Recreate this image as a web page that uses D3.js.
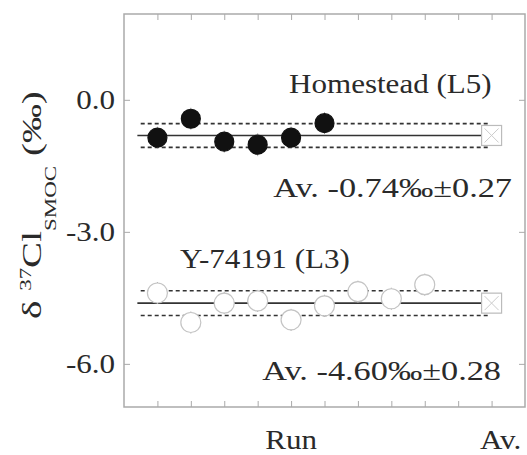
<!DOCTYPE html>
<html>
<head>
<meta charset="utf-8">
<script src="https://cdn.jsdelivr.net/npm/d3@7"></script>
<style>
  body { margin: 0; background: #fff; }
  svg { display: block; }
  text { font-family: "Liberation Serif", "Times New Roman", serif; fill: #2a2a2a; }
</style>
</head>
<body>
<div id="chart"></div>
<script>
// run numbers are positions 1..n on the x axis, the average sits at position 11
const avgPos = 11;
const xTickPos = [1, 2, 3, 4, 5, 6, 7, 8, 9, 10, 11];
const xLabels = ["Run", "Av."];
const xLabelPos = [5, 11];
const yTicks = [0, -3, -6];

// Homestead (L5), filled symbols
const homesteadVals = [-0.86, -0.43, -0.95, -1.02, -0.86, -0.53];
const homesteadErr = [0.25, 0.25, 0.25, 0.26, 0.25, 0.25];
const homesteadMean = -0.81;
const homesteadSd = 0.27;

// Y-74191 (L3), open symbols
const yamatoVals = [-4.39, -5.06, -4.62, -4.57, -5.00, -4.68, -4.36, -4.52, -4.20];
const yamatoErr = [0.25, 0.25, 0.25, 0.25, 0.25, 0.25, 0.25, 0.25, 0.25];
const yamatoMean = -4.62;
const yamatoSd = 0.28;

const seriesNames = ["Homestead (L5)", "Y-74191 (L3)"];
const avgTexts = ["Av. -0.74‰±0.27", "Av. -4.60‰±0.28"];

const width = 527, height = 455;
const fs = 27, stretch = 1.15;

const svg = d3.select('#chart').append('svg')
  .attr('width', width)
  .attr('height', height);

const x = d3.scaleLinear().domain([0, 12]).range([124, 525]);
const y = d3.scaleLinear().domain([-6.98, 1.95]).range([407, 14]);

// frame
svg.append('rect')
  .attr('x', x(0)).attr('y', y(1.95))
  .attr('width', x(12) - x(0)).attr('height', y(-6.98) - y(1.95))
  .attr('fill', 'none').attr('stroke', '#aaa').attr('stroke-width', 1.5);

// inward ticks on all four sides
svg.append('g').attr('transform', `translate(0,${y(-6.98)})`)
  .call(d3.axisTop(x).tickValues(xTickPos).tickSize(6).tickFormat(''))
  .call(g => g.select('.domain').remove())
  .selectAll('line').attr('stroke', '#aaa');
svg.append('g').attr('transform', `translate(0,${y(1.95)})`)
  .call(d3.axisBottom(x).tickValues(xTickPos).tickSize(6).tickFormat(''))
  .call(g => g.select('.domain').remove())
  .selectAll('line').attr('stroke', '#aaa');
svg.append('g').attr('transform', `translate(${x(0)},0)`)
  .call(d3.axisRight(y).tickValues(yTicks).tickSize(6).tickFormat(''))
  .call(g => g.select('.domain').remove())
  .selectAll('line').attr('stroke', '#aaa');
svg.append('g').attr('transform', `translate(${x(12)},0)`)
  .call(d3.axisLeft(y).tickValues(yTicks).tickSize(6).tickFormat(''))
  .call(g => g.select('.domain').remove())
  .selectAll('line').attr('stroke', '#aaa');

// stretched text helper (the figure is wider than it is tall)
function label(txt, px, py, anchor, sx) {
  return svg.append('text')
    .attr('transform', `translate(${px},${py}) scale(${sx || stretch},1)`)
    .attr('text-anchor', anchor)
    .style('font-size', fs + 'px')
    .text(txt);
}

// y tick labels (plain hyphen like the original)
yTicks.forEach(v => label(v.toFixed(1), x(0) - 9, y(v) + 9, 'end'));

// x labels
xLabels.forEach((t, i) => label(t, x(xLabelPos[i]) + (i === 1 ? 9 : 0), 449, 'middle'));

// y axis title, squashed across the glyphs
const title = svg.append('text')
  .attr('transform', 'translate(41,319) rotate(-90) scale(1,0.7)')
  .attr('text-anchor', 'start')
  .style('font-size', '39px');
title.append('tspan').text('δ ');
title.append('tspan').attr('dy', -14).style('font-size', '23px').text('37');
title.append('tspan').attr('dy', 14).text('Cl');
title.append('tspan').attr('dy', 22).style('font-size', '23px').text('SMOC');
title.append('tspan').attr('dy', -22).text(' (‰)');

function drawSeries(vals, errs, mean, sd, filled) {
  const g = svg.append('g');
  const idx = vals.map((v, i) => i + 1);
  // mean and +-1 sd lines
  g.append('line')
    .attr('x1', x(0.4)).attr('x2', x(avgPos))
    .attr('y1', y(mean)).attr('y2', y(mean))
    .attr('stroke', '#333').attr('stroke-width', 1.6);
  [mean + sd, mean - sd].forEach(v => {
    g.append('line')
      .attr('x1', x(0.5)).attr('x2', x(avgPos - 0.1))
      .attr('y1', y(v)).attr('y2', y(v))
      .attr('stroke', '#333').attr('stroke-width', 1.6)
      .attr('stroke-dasharray', '4,3');
  });
  // error bars
  g.selectAll('.err').data(idx).join('line')
    .attr('x1', i => x(i)).attr('x2', i => x(i))
    .attr('y1', i => y(vals[i - 1] + errs[i - 1]))
    .attr('y2', i => y(vals[i - 1] - errs[i - 1]))
    .attr('stroke', '#aaa').attr('stroke-width', 1);
  // points
  g.selectAll('.pt').data(idx).join('circle')
    .attr('cx', i => x(i)).attr('cy', i => y(vals[i - 1]))
    .attr('r', filled ? 9.5 : 10)
    .attr('fill', filled ? '#111' : '#fff')
    .attr('stroke', filled ? '#111' : '#c4c4c4')
    .attr('stroke-width', 1.2);
  // average symbol
  const s = 10;
  g.append('rect')
    .attr('x', x(avgPos) - s).attr('y', y(mean) - s)
    .attr('width', 2 * s).attr('height', 2 * s)
    .attr('fill', '#fff').attr('stroke', '#bbb').attr('stroke-width', 1.2);
  g.append('path')
    .attr('d', `M${x(avgPos) - s + 3},${y(mean) - s + 3}L${x(avgPos) + s - 3},${y(mean) + s - 3}` +
               `M${x(avgPos) + s - 3},${y(mean) - s + 3}L${x(avgPos) - s + 3},${y(mean) + s - 3}`)
    .attr('stroke', '#ccc').attr('stroke-width', 1);
}

drawSeries(homesteadVals, homesteadErr, homesteadMean, homesteadSd, true);
drawSeries(yamatoVals, yamatoErr, yamatoMean, yamatoSd, false);

// annotations
label(seriesNames[0], x(avgPos), 93, 'end');
label(avgTexts[0], 512, 197, 'end', 1.27);
label(seriesNames[1], 180, 268, 'start');
label(avgTexts[1], 501, 380, 'end', 1.27);
</script>
</body>
</html>
